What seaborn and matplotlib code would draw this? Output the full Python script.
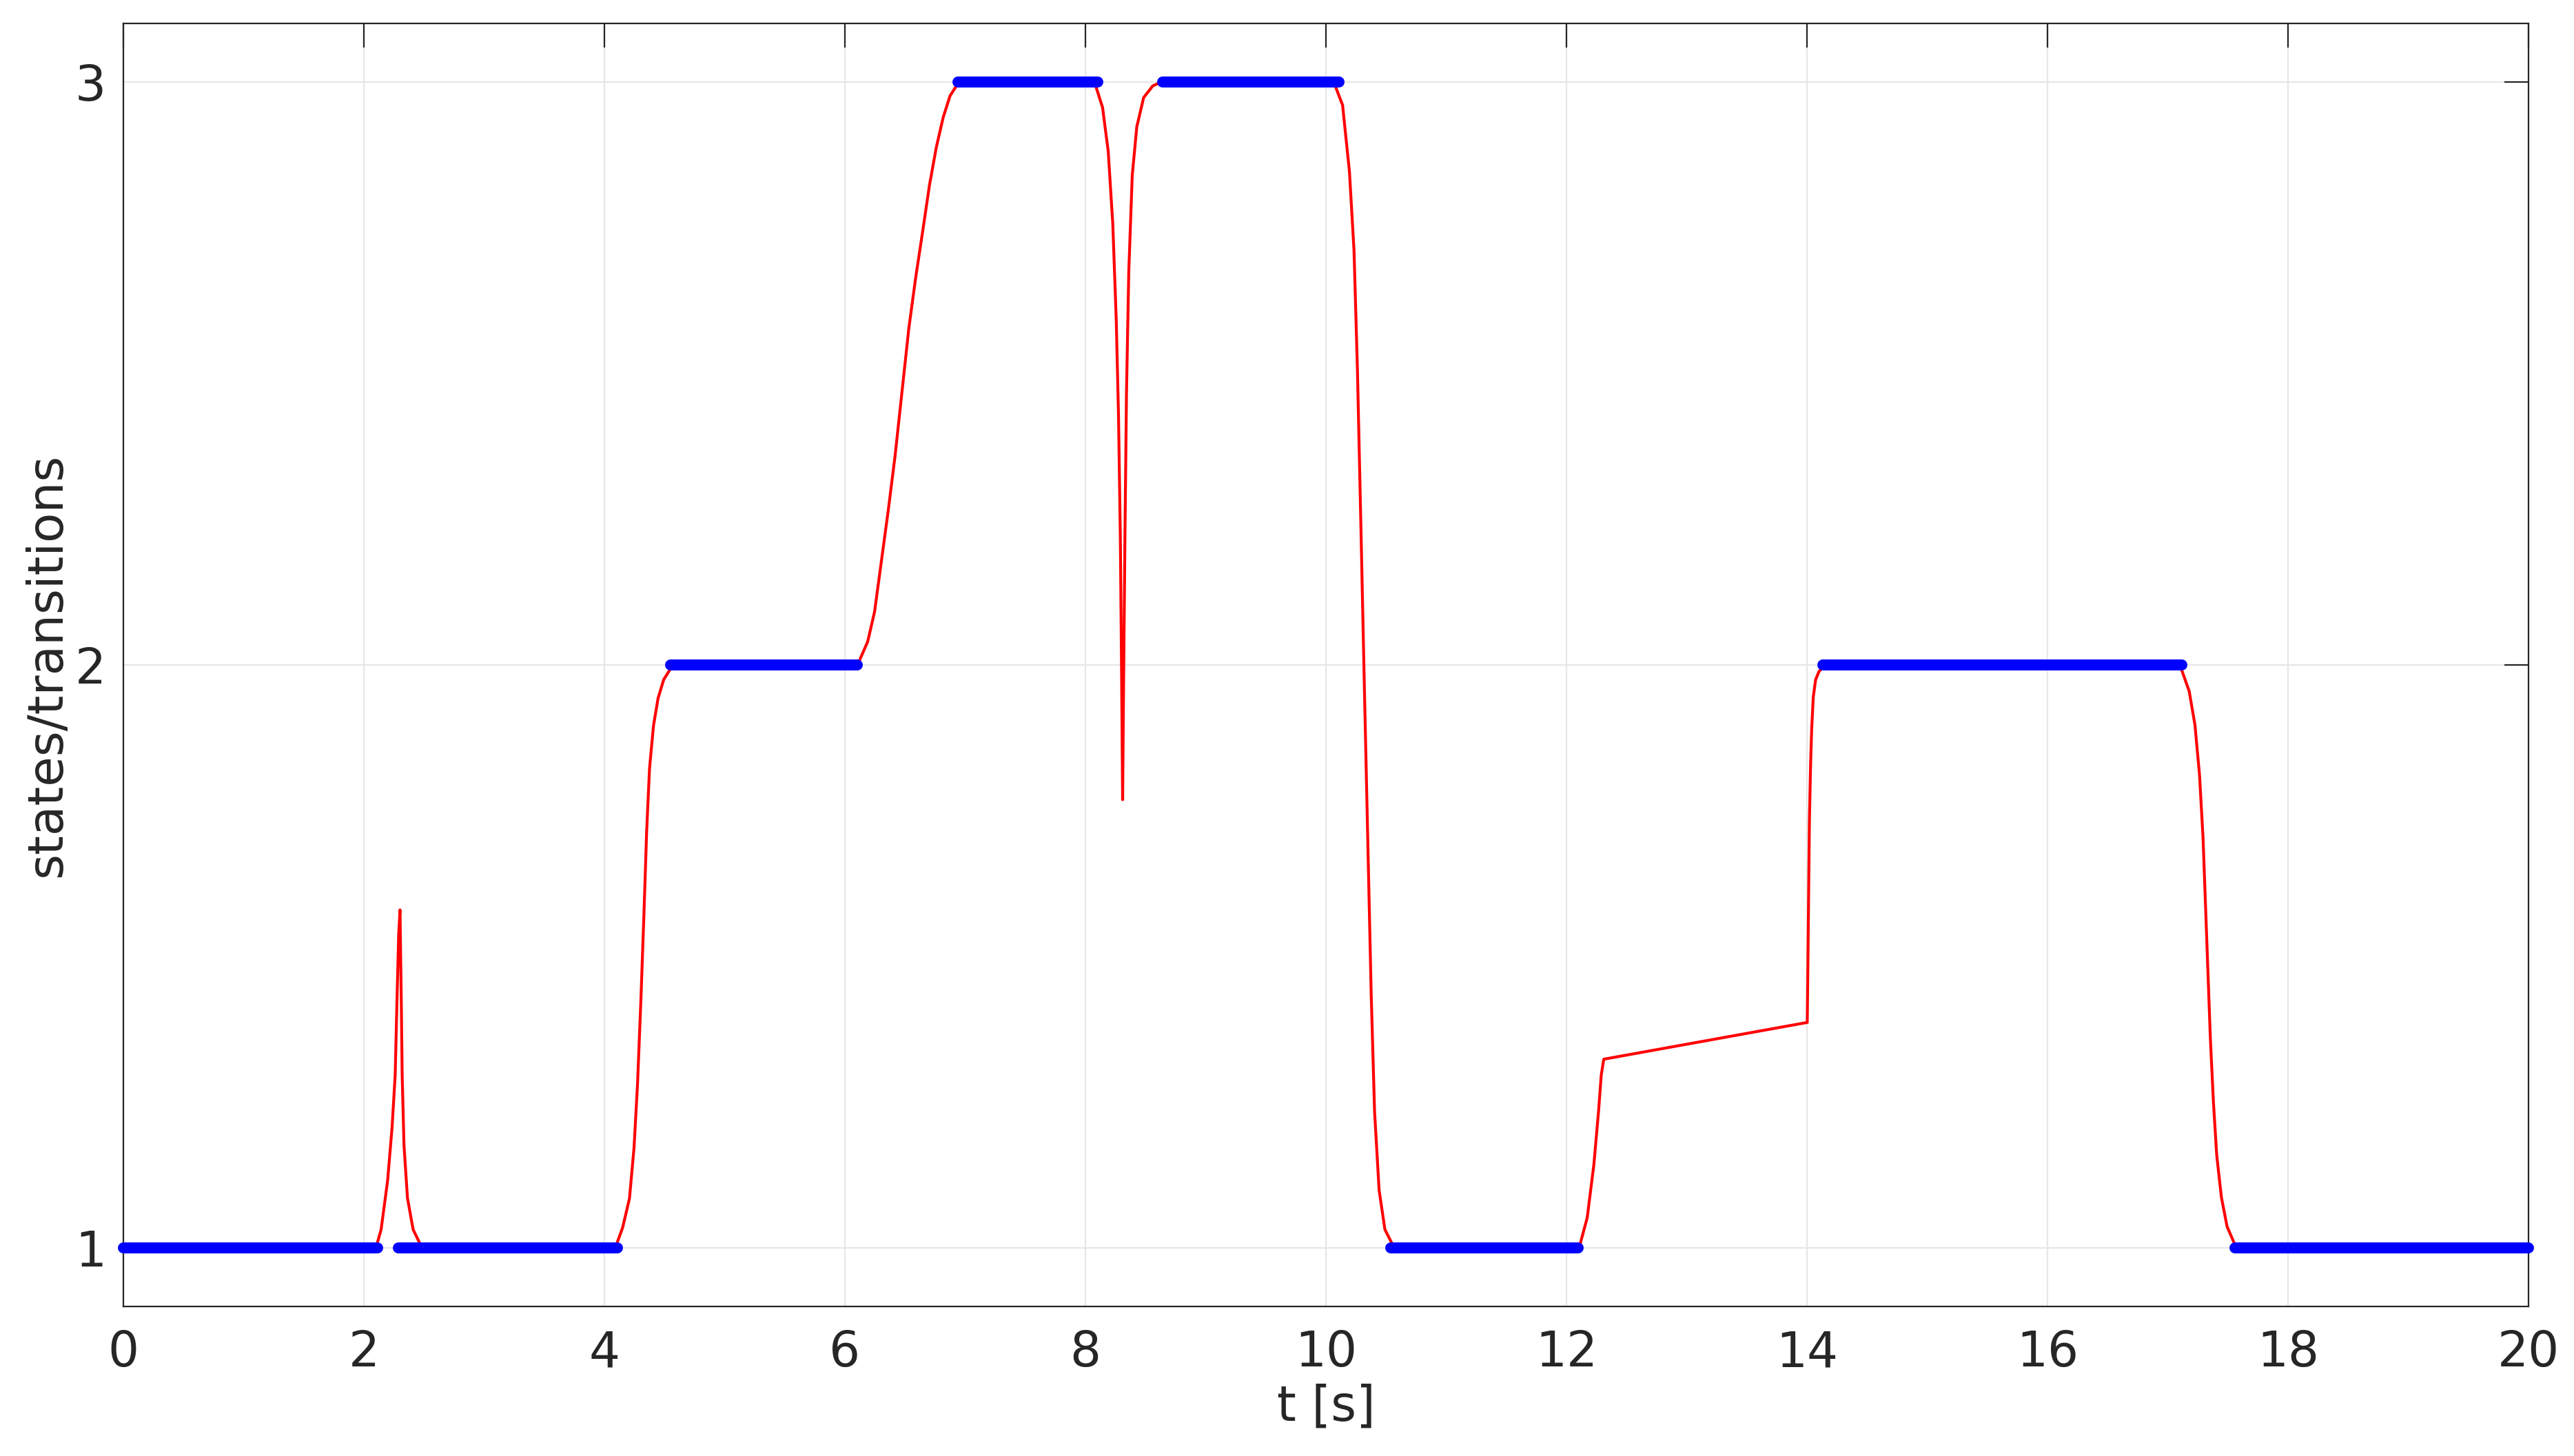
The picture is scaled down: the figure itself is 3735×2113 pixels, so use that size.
import matplotlib
matplotlib.use("Agg")
import matplotlib.pyplot as plt
import numpy as np
import pandas as pd
import seaborn as sns

# red trace: continuous transition signal
t_signal = [
    0.0, 2.10, 2.144, 2.198, 2.235, 2.261, 2.275, 2.290, 2.301, 2.312, 2.319,
    2.334, 2.363, 2.410, 2.473, 2.53,
    4.09, 4.152, 4.209, 4.247, 4.276, 4.304, 4.329, 4.352, 4.376, 4.409,
    4.447, 4.494, 4.561, 4.60,
    6.09, 6.114, 6.190, 6.247, 6.304, 6.361, 6.418, 6.475, 6.532, 6.589,
    6.647, 6.704, 6.761, 6.818, 6.875, 6.941, 6.98,
    8.06, 8.086, 8.143, 8.190, 8.228, 8.257, 8.276, 8.291, 8.302, 8.310,
    8.318, 8.329, 8.342, 8.361, 8.390, 8.428, 8.485, 8.561, 8.637,
    10.06, 10.072, 10.139, 10.196, 10.234, 10.262, 10.291, 10.319, 10.348,
    10.377, 10.405, 10.443, 10.491, 10.557, 10.614,
    12.10, 12.117, 12.173, 12.229, 12.268, 12.290, 12.311,
    14.003, 14.011, 14.021, 14.031, 14.040, 14.053, 14.073, 14.101, 14.139, 14.18,
    17.10, 17.112, 17.179, 17.227, 17.265, 17.294, 17.317, 17.336, 17.355,
    17.380, 17.408, 17.447, 17.494, 17.561, 17.62,
    20.0,
]
v_signal = [
    1.0, 1.0, 1.032, 1.116, 1.207, 1.297, 1.418, 1.538, 1.580, 1.418, 1.297,
    1.177, 1.086, 1.032, 1.005, 1.0,
    1.0, 1.035, 1.085, 1.172, 1.281, 1.425, 1.570, 1.715, 1.823, 1.896,
    1.943, 1.975, 1.997, 2.0,
    2.0, 2.004, 2.040, 2.091, 2.178, 2.265, 2.359, 2.468, 2.577, 2.664,
    2.743, 2.823, 2.888, 2.939, 2.976, 2.997, 3.0,
    3.0, 2.993, 2.956, 2.881, 2.757, 2.591, 2.425, 2.217, 1.968, 1.769,
    1.968, 2.217, 2.466, 2.674, 2.840, 2.923, 2.973, 2.993, 3.0,
    3.0, 2.996, 2.960, 2.846, 2.711, 2.510, 2.241, 1.973, 1.704,
    1.435, 1.234, 1.099, 1.032, 1.005, 1.0,
    1.0, 1.009, 1.052, 1.144, 1.236, 1.297, 1.324,
    1.387, 1.538, 1.734, 1.832, 1.891, 1.945, 1.975, 1.989, 1.997, 2.0,
    2.0, 1.994, 1.955, 1.897, 1.811, 1.704, 1.575, 1.467, 1.360,
    1.252, 1.159, 1.087, 1.037, 1.005, 1.0,
    1.0,
]

# blue: detected steady states (start, end, level)
state_start = [0.0, 2.285, 4.55, 6.94, 8.645, 10.54, 14.13, 17.56]
state_end = [2.115, 4.11, 6.105, 8.105, 10.11, 12.10, 17.12, 20.0]
state_level = [1, 1, 2, 3, 3, 1, 2, 1]

x_ticks = [0, 2, 4, 6, 8, 10, 12, 14, 16, 18, 20]
y_ticks = [1, 2, 3]

signal = pd.DataFrame({"t": t_signal, "v": v_signal})
states = pd.DataFrame({
    "seg": np.repeat(np.arange(len(state_level)), 2),
    "t": [t for pair in zip(state_start, state_end) for t in pair],
    "state": np.repeat(state_level, 2),
})

sns.set_style("white")
plt.rcParams["font.family"] = ["DejaVu Sans"]

fig = plt.figure(figsize=(37.35, 21.13), dpi=100)
ax = fig.add_axes([0.0479, 0.1027, 0.9344, 0.8812])

ax.grid(True, color="#e6e6e6", linewidth=1.6)
ax.set_axisbelow(True)

sns.lineplot(data=signal, x="t", y="v", sort=False, estimator=None,
             color="#ff0000", linewidth=3.0, ax=ax, zorder=3)
sns.lineplot(data=states, x="t", y="state", units="seg", estimator=None,
             color="#0000ff", linewidth=11.5, solid_capstyle="round",
             clip_on=False, ax=ax, zorder=4)

ax.set_xlim(0, 20)
ax.set_ylim(0.9, 3.1)
ax.set_xticks(x_ticks)
ax.set_yticks(y_ticks)

for side in ["top", "bottom", "left", "right"]:
    ax.spines[side].set_visible(True)
    ax.spines[side].set_color("#262626")
    ax.spines[side].set_linewidth(1.6)

ax.tick_params(axis="both", direction="in", length=25, width=1.6,
               color="#262626", labelcolor="#262626", labelsize=51,
               top=True, right=True)
ax.tick_params(axis="x", pad=24)
ax.tick_params(axis="y", pad=18)

ax.set_xlabel("t [s]", fontsize=51, color="#262626", labelpad=7)
ax.set_ylabel("states/transitions", fontsize=51, color="#262626", labelpad=4)

fig.savefig("out.png", dpi=100)
